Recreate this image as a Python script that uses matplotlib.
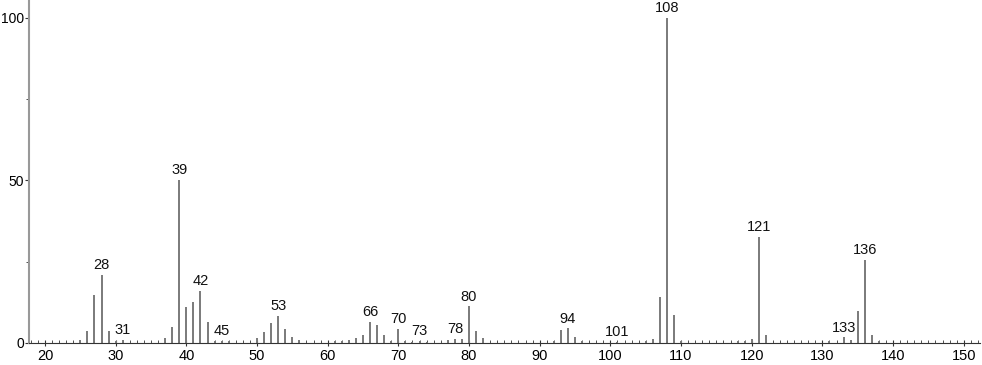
import matplotlib
matplotlib.use("Agg")
import matplotlib.pyplot as plt
from matplotlib.ticker import MultipleLocator

mz = [25, 26, 27, 28, 29, 30, 31, 37, 38, 39, 40, 41, 42, 43, 44, 45, 46,
      50, 51, 52, 53, 54, 55, 56, 61, 62, 63, 64, 65, 66, 67, 68, 69, 70,
      71, 72, 73, 74, 77, 78, 79, 80, 81, 82, 92, 93, 94, 95, 96, 101,
      105, 106, 107, 108, 109, 110, 118, 119, 120, 121, 122, 131, 133,
      134, 135, 136, 137, 138]
intensity = [0.8, 3.6, 14.8, 21.0, 3.6, 0.5, 1.0, 1.5, 4.9, 50.2, 11.1, 12.7,
             16.0, 6.4, 0.5, 0.7, 0.7, 1.5, 3.3, 6.1, 8.3, 4.4, 1.8, 0.8,
             0.6, 0.5, 0.8, 1.5, 2.5, 6.5, 5.4, 2.4, 0.6, 4.4, 0.6, 0.3,
             0.6, 0.3, 0.8, 1.2, 1.2, 11.3, 3.7, 1.4, 0.6, 4.0, 4.5, 1.8,
             0.6, 0.3, 0.7, 1.3, 14.0, 100.0, 8.7, 0.5, 0.6, 0.5, 1.3, 32.6,
             2.5, 0.6, 1.8, 0.9, 9.8, 25.5, 2.5, 0.6]
labeled = [28, 31, 39, 42, 45, 53, 66, 70, 73, 78, 80, 94, 101, 108, 121, 133, 136]
x_ticks = [20, 30, 40, 50, 60, 70, 80, 90, 100, 110, 120, 130, 140, 150]
y_ticks = [0, 50, 100]

plt.rcParams["font.family"] = ["Liberation Sans", "DejaVu Sans"]

fig = plt.figure(figsize=(9.82, 3.65), dpi=100)
ax = fig.add_axes([29/982, 1-343/365, (980-29)/982, 343/365])
ax.vlines(mz, 0, intensity, color="#7a7a7a", linewidth=1.4)
lookup = dict(zip(mz, intensity))
for m in labeled:
    ax.text(m, lookup[m] + 0.8, str(m), ha="center", va="bottom",
            fontsize=10.5, color="#111111")
ax.set_xlim(17.74, 152.3)
ax.set_ylim(0, 105.5)
ax.set_xticks(x_ticks)
ax.set_yticks(y_ticks)
ax.xaxis.set_minor_locator(MultipleLocator(1))
ax.yaxis.set_minor_locator(MultipleLocator(25))
for s in ["top", "right"]:
    ax.spines[s].set_visible(False)
ax.spines["left"].set_color("#999999")
ax.spines["left"].set_linewidth(1.5)
ax.spines["bottom"].set_color("#333333")
ax.spines["bottom"].set_linewidth(0.8)
ax.tick_params(axis="x", which="major", direction="inout", length=5, width=0.8,
               labelsize=10.5, pad=2, color="#333333")
ax.tick_params(axis="x", which="minor", direction="in", length=2, width=0.6, color="#333333")
ax.tick_params(axis="y", which="major", direction="out", length=3, width=0.8,
               labelsize=10, pad=0.5, color="#333333")
ax.tick_params(axis="y", which="minor", direction="out", length=2.5, width=0.6, color="#333333")
fig.savefig("out.png", dpi=100)
